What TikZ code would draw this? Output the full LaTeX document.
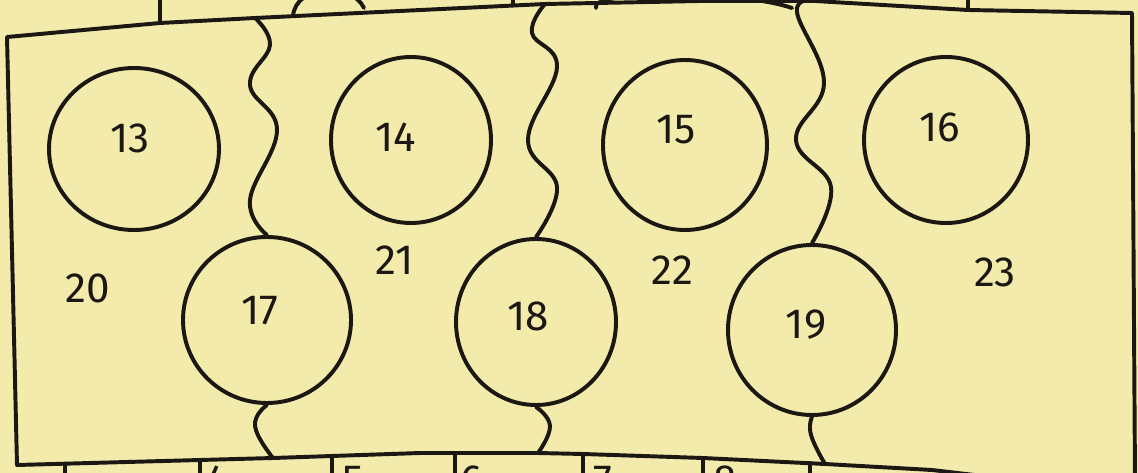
\documentclass[tikz,border=0pt]{standalone}
\usepackage{fontspec}
\setsansfont{Fira Sans}
\usepackage{tikz}
\usetikzlibrary{shapes.geometric}
\definecolor{cPaper}{HTML}{F2EBAC}
\definecolor{cPen}{HTML}{1B1712}
\tikzset{
  pen/.style={draw=cPen,line width=2.8pt,line cap=round,line join=round},
  ring/.style 2 args={pen,ellipse,inner sep=0pt,minimum width=#1,minimum height=#2},
  num/.style={font=\sffamily\fontsize{30}{34}\selectfont,text=cPen,inner sep=0pt},
}
\begin{document}
\begin{tikzpicture}[x=0.025cm,y=-0.025cm]
  \useasboundingbox (0,0) rectangle (1138,473);
  \clip (0,0) rectangle (1138,473);
  \fill[cPaper] (0,0) rectangle (1138,473);
  % frame ends of the wavy seams
  \coordinate (w1top) at (255,18);
  \coordinate (w2top) at (545,4);
  \coordinate (w3top) at (815,1);
  \coordinate (w1bot) at (273,458);
  \coordinate (w2bot) at (538,453);
  \coordinate (w3bot) at (825,464);
  \draw[pen] (1000,478) -- (932,470) -- (w3bot) -- (703,458) -- (583,454) -- (w2bot) -- (420,453) -- (w1bot) -- (17,465)
    -- (7,37) -- (160,23) -- (w1top) -- (w2top) -- (700,1) -- (w3top) -- (968,10) -- (1132,13) -- (1135,480);
  % bits above the frame
  \draw[pen] (160,23) -- (160,-5);
  \draw[pen] (513,5) -- (513,-5);
  \draw[pen] (968,10) -- (968,-5);
  \draw[pen] (293,16) .. controls (296,-16) and (352,-18) .. (364,8);
  \draw[pen] (596,8) .. controls (588,-10) and (740,-10) .. (792,8);
  % circles
  \foreach \n/\cx/\cy/\rx/\ry in {13/134/149/85/81,14/411/140/80/83,15/685/145/82/85,16/946/140/82/83,
                                   17/267/320/84/83,18/536/322/80/83,19/812/330/84/85}
    \node[ring={2*\rx*0.025cm}{2*\ry*0.025cm}] (c\n) at (\cx,\cy) {};
  \foreach \n/\lx/\ly in {13/130/138,14/396/137,15/676/130,16/940/127,17/260/311,18/528/316,19/806/325,
                           20/88/288,21/395/260,22/672/270,23/995/272}
    \node[num] (n\n) at (\lx,\ly) {\n};
  % wavy seams
  \draw[pen] plot[smooth,tension=0.7] coordinates {(w1top) (270,45) (250,85) (277,130) (250,200) (c17.north)};
  \draw[pen] plot[smooth,tension=0.7] coordinates {(w2top) (532,33) (557,67) (528,140) (557,187) (c18.north)};
  \draw[pen] plot[smooth,tension=0.7] coordinates {(w3top) (797,12) (824,83) (796,140) (831,187) (c19.north)};
  \draw[pen] plot[smooth,tension=0.8] coordinates {(c17.south) (255,426) (w1bot)};
  \draw[pen] plot[smooth,tension=0.8] coordinates {(c18.south) (550,426) (w2bot)};
  \draw[pen] plot[smooth,tension=0.8] coordinates {(c19.south) (811,435) (w3bot)};
  % cells under the frame
  \foreach \x/\y in {65/464,200/461,332/456,455/453,583/454,703/458,810/463}
    \draw[pen] (\x,\y) -- (\x,480);
  \foreach \d/\x in {4/217,5/353,6/472,7/603,8/725}
    \node[num,anchor=north] (b\d) at (\x,466) {\d};
\end{tikzpicture}
\end{document}
